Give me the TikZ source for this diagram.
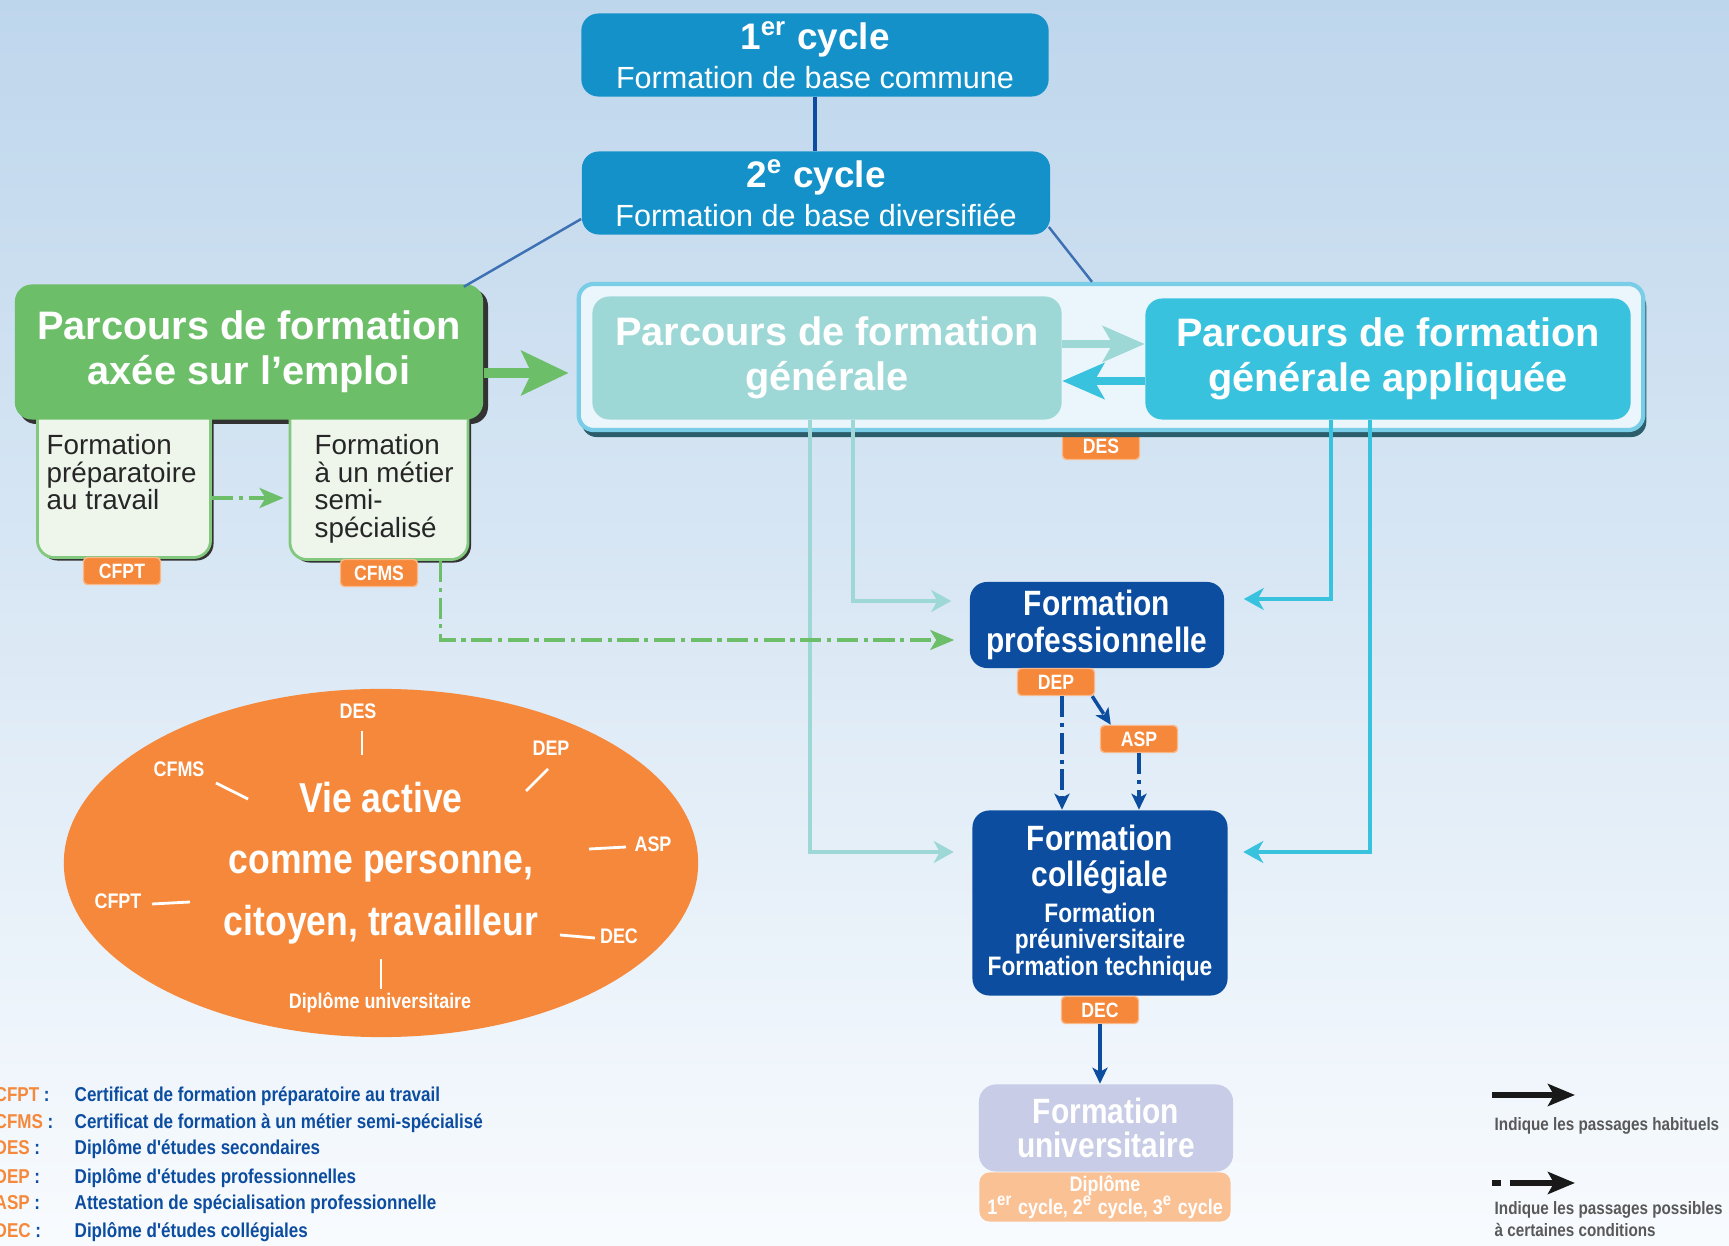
\documentclass[tikz,border=0pt]{standalone}
\usepackage{fontspec}
\setmainfont{Liberation Sans}
\newfontfamily\etroit[FakeStretch=0.85]{Liberation Sans}
\usepackage{tikz}
\usetikzlibrary{arrows.meta,backgrounds,calc,positioning,shapes.geometric,shadows}
\definecolor{fondhaut}{RGB}{190,214,236}
\definecolor{fondbas}{RGB}{248,251,254}
\definecolor{cyclebleu}{RGB}{21,145,201}
\definecolor{marine}{RGB}{12,77,160}
\definecolor{vert}{RGB}{108,191,104}
\definecolor{vertpale}{RGB}{238,246,236}
\definecolor{turquoise}{RGB}{157,216,214}
\definecolor{cyanclair}{RGB}{56,194,222}
\definecolor{cadre}{RGB}{235,246,252}
\definecolor{cadrebord}{RGB}{122,205,230}
\definecolor{orangeq}{RGB}{245,136,58}
\definecolor{lavande}{RGB}{200,204,230}
\definecolor{orangepale}{RGB}{250,193,149}
\definecolor{ombre}{RGB}{43,93,107}

\begin{document}
\begin{tikzpicture}[x=0.01cm,y=-0.01cm,
  boite/.style={rounded corners=0.17cm,align=center,text=white,inner sep=0pt},
  titre/.style={font=\fontsize{11.3}{12.8}\selectfont\bfseries},
  badge/.style={fill=orangeq,draw=orangeq!60!white,line width=0.4pt,rounded corners=0.04cm,text=white,inner sep=0pt,minimum width=0.77cm,minimum height=0.27cm,font=\etroit\fontsize{5.9}{6}\selectfont\bfseries},
  lien/.style={line width=0.9pt,-{Stealth[length=0.2cm,width=0.22cm,inset=0.06cm]}},
  fleche/.style={-{Stealth[length=0.16cm,width=0.15cm,inset=0.04cm]}},
  possible/.style={line width=1pt,dash pattern=on 6pt off 1.6pt on 1.2pt off 1.6pt},
  blanc/.style={text=white,font=\etroit\fontsize{6}{7}\selectfont\bfseries,inner sep=0pt},
  legende/.style={anchor=base west,inner sep=0pt,text=marine,font=\etroit\fontsize{5.7}{6}\selectfont\bfseries},
  note/.style={anchor=base west,inner sep=0pt,align=left,text=black!65,font=\etroit\fontsize{5.1}{6.2}\selectfont\bfseries}]
\useasboundingbox (0,0) rectangle (1729,1246);
\shade[top color=fondhaut,bottom color=fondbas] (0,0) rectangle (1729,1246);

\node[boite,fill=cyclebleu,minimum width=4.67cm,minimum height=0.83cm] (C1) at (815,55) {\fontsize{10.5}{12}\selectfont\bfseries 1\textsuperscript{er} cycle\\[-1pt]\fontsize{8.7}{10}\selectfont Formation de base commune};
\node[boite,fill=cyclebleu,minimum width=4.68cm,minimum height=0.83cm] (C2) at (816,193) {\fontsize{10.5}{12}\selectfont\bfseries 2\textsuperscript{e} cycle\\[-1pt]\fontsize{8.7}{10}\selectfont Formation de base diversifiée};
\draw[marine,line width=1.2pt] (C1.south) -- (C1.south |- C2.north);

\fill[black!80,rounded corners=0.17cm] (19,289) rectangle (488,424);
\node[boite,fill=vertpale,draw=vert!85!white,line width=0.8pt,minimum width=1.73cm,minimum height=1.57cm,drop shadow={shadow xshift=0.03cm,shadow yshift=-0.03cm,fill=black!80,opacity=1}] (P1) at (124,479) {};
\node[boite,fill=vertpale,draw=vert!85!white,line width=0.8pt,minimum width=1.78cm,minimum height=1.59cm,drop shadow={shadow xshift=0.03cm,shadow yshift=-0.03cm,fill=black!80,opacity=1}] (P2) at (379,480) {};
\node[boite,titre,fill=vert,minimum width=4.68cm,minimum height=1.35cm] (E) at (249,352) {Parcours de formation\\axée sur l'emploi};
\node[anchor=north west,align=left,inner sep=0pt,text=black!85,font=\fontsize{7.9}{7.8}\selectfont] (T1) at (46,434) {Formation\\préparatoire\\au travail};
\node[anchor=north west,align=left,inner sep=0pt,text=black!85,font=\fontsize{7.9}{7.8}\selectfont] (T2) at (314,434) {Formation\\à un métier\\semi-\\spécialisé};
\node[badge] (B1) at (122,571) {CFPT};
\node[badge] (B2) at (379,573) {CFMS};

\node[badge] (B3) at (1101,446) {DES};
\node[fill=cadre,draw=cadrebord,line width=1.2pt,rounded corners=0.15cm,minimum width=10.64cm,minimum height=1.46cm,drop shadow={shadow xshift=0.03cm,shadow yshift=-0.07cm,fill=ombre,opacity=1}] (G0) at (1111,357) {};
\node[boite,titre,fill=turquoise,minimum width=4.69cm,minimum height=1.23cm] (G) at (827,358) {Parcours de formation\\générale};
\node[boite,titre,fill=cyanclair,minimum width=4.85cm,minimum height=1.21cm] (GA) at (1388,359) {Parcours de formation\\générale appliquée};
\draw[turquoise,line width=2pt,-{Stealth[length=0.42cm,width=0.36cm,inset=0.1cm]}] ($(G.east)+(0,-14)$) coordinate (a) -- (GA.west |- a);
\draw[cyanclair,line width=2pt,-{Stealth[length=0.42cm,width=0.36cm,inset=0.1cm]}] ($(GA.west)+(0,22)$) coordinate (b) -- (G.east |- b);

\draw[marine!80,line width=0.7pt] ($(C2.west)+(0,26)$) -- ($(E.north east)+(-20,3)$);
\draw[marine!80,line width=0.7pt] ($(C2.east)+(-2,34)$) -- ($(G0.north)+(-19,0)$);
\draw[vert,line width=2.8pt,-{Stealth[length=0.47cm,width=0.44cm,inset=0.1cm]}] ($(E.east)+(0,21)$) -- ($(G0.west)+(-8,16)$);

\node[boite,fill=marine,minimum width=2.54cm,minimum height=0.86cm,font=\etroit\fontsize{10}{10.5}\selectfont\bfseries] (FP) at (1097,625) {Formation\\professionnelle};
\node[badge] (B4) at (1056,682) {DEP};
\node[badge] (B5) at (1139,739) {ASP};
\node[boite,fill=marine,minimum width=2.55cm,minimum height=1.85cm,font=\etroit\fontsize{10}{10.2}\selectfont\bfseries] (FC) at (1100,903) {Formation\\collégiale\\[0pt]\fontsize{7.6}{7.6}\selectfont Formation\\[-2.6pt]\fontsize{7.6}{7.6}\selectfont préuniversitaire\\[-2.6pt]\fontsize{7.6}{7.6}\selectfont Formation technique};
\node[badge] (B6) at (1100,1010) {DEC};
\node[fill=orangepale,rounded corners=0.1cm,minimum width=2.51cm,minimum height=0.49cm,align=center,text=white,inner sep=0pt,font=\etroit\fontsize{6}{6.5}\selectfont\bfseries] (D) at (1105,1197) {Diplôme\\1\textsuperscript{er} cycle, 2\textsuperscript{e} cycle, 3\textsuperscript{e} cycle};
\node[boite,fill=lavande,minimum width=2.54cm,minimum height=0.87cm,font=\etroit\fontsize{10}{9.6}\selectfont\bfseries] (FU) at (1106,1128) {Formation\\universitaire};

\draw[turquoise,lien] ($(G.south)+(26,0)$) |- ($(FP.west)+(-18,-24)$);
\draw[turquoise,lien] ($(G.south)+(-17,0)$) |- ($(FC.west)+(-18,-51)$);
\draw[cyanclair,lien] ($(GA.south)+(-57,0)$) |- ($(FP.east)+(19,-26)$);
\draw[cyanclair,lien] ($(GA.south)+(-18,0)$) |- ($(FC.east)+(15,-51)$);
\draw[vert,possible,-{Stealth[length=0.24cm,width=0.2cm,inset=0.06cm]}] ($(P1.east)+(0,19)$) coordinate (c) -- ($(P2.west |- c)+(-5,0)$);
\draw[vert,possible,-{Stealth[length=0.24cm,width=0.2cm,inset=0.06cm]}] ($(P2.south east)+(-29,0)$) |- ($(FP.west)+(-15,15)$);
\draw[marine,possible,fleche] ($(B4.south)+(6,0)$) coordinate (d) -- (d |- FC.north);
\draw[marine,possible,fleche] ($(B4.south east)+(-3,0)$) -- ($(B5.north west)+(11,0)$);
\draw[marine,possible,fleche] (B5.south) -- (B5.south |- FC.north);
\draw[marine,line width=1.4pt,fleche] (B6.south) -- (B6.south |- FU.north);

\node[ellipse,fill=orangeq,minimum width=6.34cm,minimum height=3.48cm,inner sep=0pt,align=center,text=white,font=\etroit\fontsize{11.9}{17.4}\selectfont\bfseries] (V) at (381,863) {Vie active\\comme personne,\\citoyen, travailleur};
\node[blanc] (L1) at (358,711) {DES};
\node[blanc] (L2) at (179,769) {CFMS};
\node[blanc] (L3) at (551,748) {DEP};
\node[blanc] (L4) at (653,844) {ASP};
\node[blanc] (L5) at (118,901) {CFPT};
\node[blanc] (L6) at (619,936) {DEC};
\node[blanc] (L7) at (380,1003) {Diplôme universitaire};
\draw[white,line width=0.8pt] ($(L1)+(4,20)$) -- ++(0,24);
\draw[white,line width=0.8pt] ($(L2)+(37,14)$) -- ++(32,16);
\draw[white,line width=0.8pt] ($(L3)+(-3,21)$) -- ++(-22,22);
\draw[white,line width=0.8pt] ($(L4)+(-27,3)$) -- ++(-37,2);
\draw[white,line width=0.8pt] ($(L5)+(34,3)$) -- ++(38,-2);
\draw[white,line width=0.8pt] ($(L6)+(-24,2)$) -- ++(-35,-3);
\draw[white,line width=0.8pt] ($(L7)+(1,-14)$) -- ++(0,-30);

\node[legende] (A1) at (-6,1102) {\textcolor{orangeq}{CFPT} :};
\node[legende] (A2) at (-6,1129) {\textcolor{orangeq}{CFMS} :};
\node[legende] (A3) at (-6,1155) {\textcolor{orangeq}{DES} :};
\node[legende] (A4) at (-6,1183) {\textcolor{orangeq}{DEP} :};
\node[legende] (A5) at (-6,1210) {\textcolor{orangeq}{ASP} :};
\node[legende] (A6) at (-6,1238) {\textcolor{orangeq}{DEC} :};
\node[legende] (N1) at (74,1102) {Certificat de formation préparatoire au travail};
\node[legende] (N2) at (74,1129) {Certificat de formation à un métier semi-spécialisé};
\node[legende] (N3) at (74,1155) {Diplôme d'études secondaires};
\node[legende] (N4) at (74,1183) {Diplôme d'études professionnelles};
\node[legende] (N5) at (74,1210) {Attestation de spécialisation professionnelle};
\node[legende] (N6) at (74,1238) {Diplôme d'études collégiales};

\coordinate (H1) at (1492,1095);
\coordinate (H2) at (1575,1095);
\coordinate (H3) at (1492,1183);
\coordinate (H4) at (1575,1183);
\draw[black!90,line width=1.6pt,-{Stealth[length=0.27cm,width=0.22cm,inset=0.06cm]}] (H1) -- (H2);
\draw[black!90,line width=1.6pt,dash pattern=on 2.5pt off 2.5pt on 40pt,-{Stealth[length=0.27cm,width=0.22cm,inset=0.06cm]}] (H3) -- (H4);
\node[note] (I1) at (1494,1130) {Indique les passages habituels};
\node[note] (I2) at (1494,1236) {Indique les passages possibles\\à certaines conditions};
\end{tikzpicture}
\end{document}
